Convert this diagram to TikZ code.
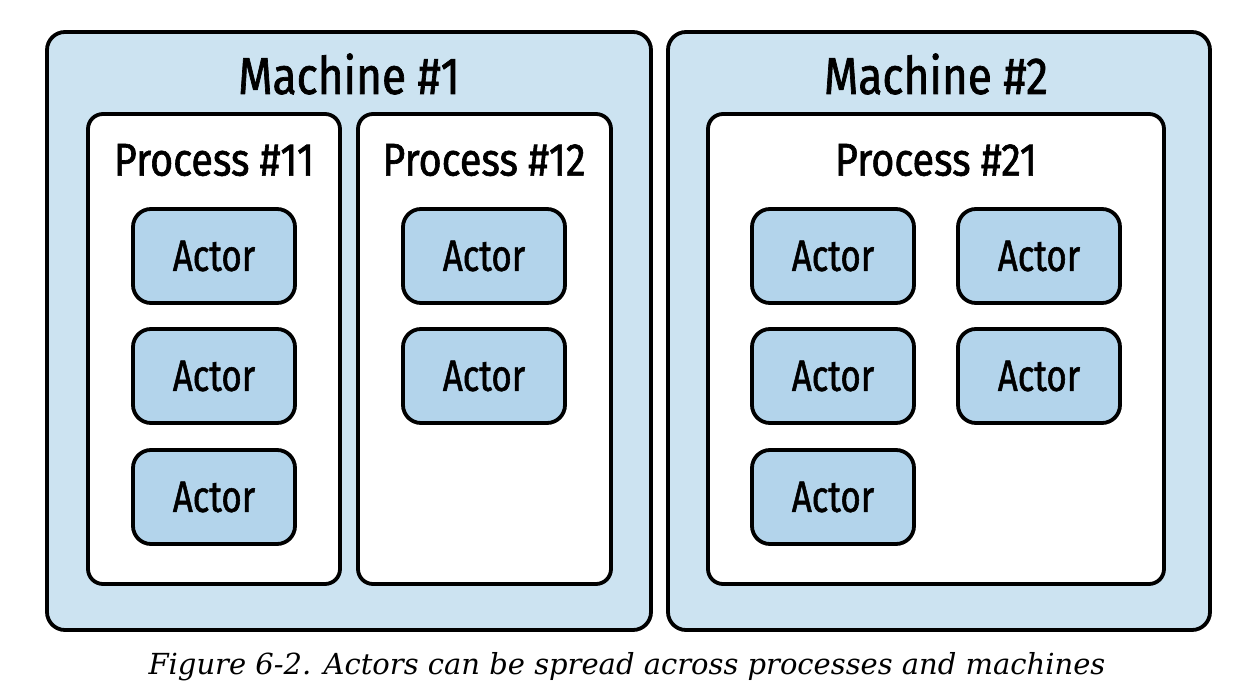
\documentclass[tikz,border=0pt]{standalone}
\usepackage{fontspec}
\newfontfamily\titlefont[FakeStretch=0.85,FakeBold=1.3]{Fira Sans}
\newfontfamily\procfont[FakeStretch=0.86,FakeBold=1.3]{Fira Sans}
\newfontfamily\actfont[FakeStretch=0.79,FakeBold=1.2]{Fira Sans}
\newfontfamily\capfont{DejaVu Serif}
\definecolor{machfill}{HTML}{CCE3F1}
\definecolor{actfill}{HTML}{B3D4EB}
\begin{document}
\begin{tikzpicture}[x=1pt,y=-1pt,
  machine/.style={draw=black,line width=3.8pt,fill=machfill,rounded corners=18pt},
  process/.style={draw=black,line width=3.8pt,fill=white,rounded corners=15pt},
  actor/.style={draw=black,line width=3.8pt,fill=actfill,rounded corners=18pt,
     minimum width=162pt,minimum height=94pt,inner sep=0pt,
     font=\actfont\fontsize{44}{44}\selectfont},
  title/.style={inner sep=0pt,anchor=center,font=\titlefont\fontsize{52}{52}\selectfont},
  ptitle/.style={inner sep=0pt,anchor=center,font=\procfont\fontsize{46}{46}\selectfont}]
\useasboundingbox (0,0) rectangle (1254,700);
\fill[white] (0,0) rectangle (1254,700);
% machines
\draw[machine] (47,32) rectangle (651,630);
\node[title] (m1t) at (349,74) {Machine \#1};
\draw[machine] (668,32) rectangle (1210,630);
\node[title] (m2t) at (936,74) {Machine \#2};
% processes
\draw[process] (88,114) rectangle (340,584);
\node[ptitle] (p11t) at (214,160) {Process \#11};
\draw[process] (358,114) rectangle (611,584);
\node[ptitle] (p12t) at (484,160) {Process \#12};
\draw[process] (708,114) rectangle (1164,584);
\node[ptitle] (p21t) at (936,160) {Process \#21};
% actors
\node[actor] (a1) at (214,256) {Actor};
\node[actor] (a2) at (214,376) {Actor};
\node[actor] (a3) at (214,497) {Actor};
\node[actor] (a4) at (484,256) {Actor};
\node[actor] (a5) at (484,376) {Actor};
\node[actor] (a6) at (833,256) {Actor};
\node[actor] (a7) at (1039,256) {Actor};
\node[actor] (a8) at (833,376) {Actor};
\node[actor] (a9) at (1039,376) {Actor};
\node[actor] (a10) at (833,497) {Actor};
% caption
\node[inner sep=0pt,font=\capfont\itshape\fontsize{29}{29}\selectfont] (cap) at (627,667) {Figure 6-2. Actors can be spread across processes and machines};
\end{tikzpicture}
\end{document}
